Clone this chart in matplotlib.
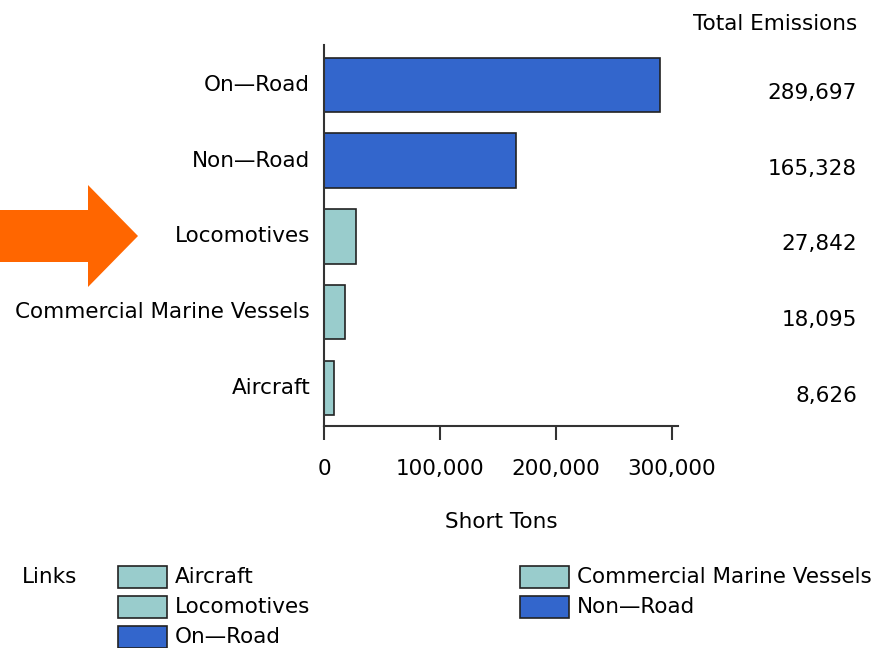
import matplotlib
matplotlib.use('Agg')
import matplotlib.pyplot as plt
from matplotlib.patches import Polygon, Rectangle
from matplotlib.ticker import FuncFormatter

plt.rcParams['font.family'] = ['DejaVu Sans']

# data, bottom to top
categories = ['Aircraft', 'Commercial Marine Vessels', 'Locomotives', 'Non\u2014Road', 'On\u2014Road']
emissions = [8626, 18095, 27842, 165328, 289697]
groups = ['teal', 'teal', 'teal', 'blue', 'blue']
total_labels = ['8,626', '18,095', '27,842', '165,328', '289,697']
x_ticks = [0, 100000, 200000, 300000]

colors = {'teal': '#99CCCC', 'blue': '#3366CC'}
fs = 15.5

fig = plt.figure(figsize=(8.78, 6.48), dpi=100)
ax = fig.add_axes([0.369, 0.343, 0.403, 0.588])

ypos = list(range(len(categories)))
ax.barh(ypos, emissions, height=0.72, color=[colors[g] for g in groups],
        edgecolor='#222222', linewidth=1.2)
ax.set_ylim(-0.5, 4.53)
ax.set_xlim(0, 305000)
ax.set_yticks(ypos)
ax.set_yticklabels(categories, fontsize=fs, va='top')
for lbl in ax.get_yticklabels():
    lbl.set_va('center')
ax.tick_params(axis='y', length=0, pad=10)
ax.set_xticks(x_ticks)
ax.xaxis.set_major_formatter(FuncFormatter(lambda v, p: f'{int(v):,}'))
ax.tick_params(axis='x', length=10, width=1.5, labelsize=fs, pad=14, color='#333333')
ax.spines['top'].set_visible(False)
ax.spines['right'].set_visible(False)
for s in ('left', 'bottom'):
    ax.spines[s].set_linewidth(1.5)
    ax.spines[s].set_color('#333333')
ax.set_xlabel('Short Tons', fontsize=fs, labelpad=24)

# totals column on the right
fig.text(857 / 878, 1 - 24 / 648, 'Total Emissions', fontsize=fs, ha='right', va='center')
for y, lab in zip(ypos, total_labels):
    ax.annotate(lab, xy=(857 / 878, y), xycoords=('figure fraction', 'data'),
                xytext=(0, -8), textcoords='offset pixels',
                ha='right', va='center', fontsize=fs)

# orange arrow pointing at Locomotives
arrow_px = [(0, 210), (88, 210), (88, 185), (138, 236), (88, 287), (88, 262), (0, 262)]
fig.patches.append(Polygon([(x / 878, 1 - y / 648) for x, y in arrow_px],
                           closed=True, facecolor='#FF6600', edgecolor='none',
                           transform=fig.transFigure, figure=fig))

# legend drawn by hand in figure coords
fig.text(22 / 878, 1 - 577 / 648, 'Links', fontsize=fs, va='center')
legend_items = [('Aircraft', 'teal', 118, 577), ('Locomotives', 'teal', 118, 607),
                ('On\u2014Road', 'blue', 118, 637),
                ('Commercial Marine Vessels', 'teal', 520, 577), ('Non\u2014Road', 'blue', 520, 607)]
for name, g, x0, yc in legend_items:
    fig.patches.append(Rectangle((x0 / 878, 1 - (yc + 11) / 648), 49 / 878, 22 / 648,
                                 facecolor=colors[g], edgecolor='#222222', linewidth=1.2,
                                 transform=fig.transFigure, figure=fig))
    fig.text((x0 + 57) / 878, 1 - yc / 648, name, fontsize=fs, va='center')

fig.savefig('out.png', dpi=100)
